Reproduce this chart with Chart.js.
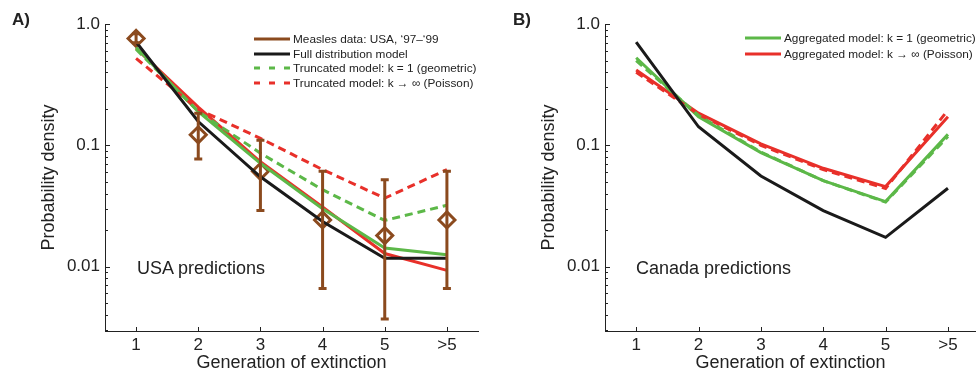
<!DOCTYPE html>
<html><head><meta charset="utf-8">
<script src="https://cdn.jsdelivr.net/npm/chart.js@4.4.1/dist/chart.umd.min.js"></script>
<style>
html,body{margin:0;padding:0;background:#fff;}
#wrap{position:relative;width:976px;height:376px;overflow:hidden;font-family:"Liberation Sans",Arial,Helvetica,sans-serif;color:#222;}
canvas{position:absolute;top:0;}
.t{position:absolute;white-space:nowrap;line-height:1;}
.panel{font-weight:bold;font-size:17px;}
.note{font-size:18px;}
.leg{position:absolute;font-size:11.8px;white-space:nowrap;}
.leg .row{position:absolute;left:0;height:14px;display:flex;align-items:center;}
.leg svg{display:block;margin-right:3px;}
</style>
</head><body>
<div id="wrap">
<canvas id="ca" width="500" height="376" style="left:0"></canvas>
<canvas id="cb" width="476" height="376" style="left:500px"></canvas>
<div class="t panel" style="left:12px;top:11px">A)</div>
<div class="t panel" style="left:513px;top:11px">B)</div>
<div class="t note" style="left:137px;top:259px">USA predictions</div>
<div class="t note" style="left:636px;top:259px">Canada predictions</div>
<div class="leg" id="legA" style="left:254px;top:32px"></div>
<div class="leg" id="legB" style="left:745px;top:31px"></div>
</div>
<script>
// ---------- data ----------
const categories = ['1', '2', '3', '4', '5', '>5'];
const generations = [1, 2, 3, 4, 5, 6];
const yTickValues = [1, 0.1, 0.01];
const yTickLabels = ['1.0', '0.1', '0.01'];

// Panel A (USA)
const usaMeasles     = [0.76, 0.122, 0.061, 0.0242, 0.018, 0.0242];
const usaMeaslesLow  = [0.70, 0.077, 0.029, 0.0066, 0.0037, 0.0066];
const usaMeaslesHigh = [0.83, 0.184, 0.110, 0.061, 0.052, 0.061];
const usaFull        = [0.71, 0.157, 0.055, 0.0235, 0.0117, 0.0117];
const usaAggGeom     = [0.64, 0.189, 0.071, 0.030, 0.0142, 0.0125];
const usaAggPois     = [0.63, 0.206, 0.073, 0.031, 0.0128, 0.0093];
const usaTruncGeom   = [0.62, 0.190, 0.086, 0.043, 0.024, 0.032];
const usaTruncPois   = [0.52, 0.198, 0.114, 0.063, 0.0366, 0.063];

// Panel B (Canada)
const canFull        = [0.71, 0.142, 0.0558, 0.0289, 0.0174, 0.0442];
const canAggGeom     = [0.527, 0.172, 0.087, 0.051, 0.0343, 0.123];
const canAggPois     = [0.418, 0.184, 0.1025, 0.0646, 0.0456, 0.172];
const canTruncGeom   = [0.50, 0.176, 0.088, 0.051, 0.034, 0.118];
const canTruncPois   = [0.40, 0.180, 0.100, 0.063, 0.044, 0.195];

// ---------- style ----------
const FONT = '"Liberation Sans", Arial, Helvetica, sans-serif';
const TXT = '#222';
const BROWN = '#8b4a1e', BLACK = '#1a1a1a', GREEN = '#5cb848', RED = '#e8302a';
const DASH = [8, 5];

const pts = arr => arr.map((v, i) => ({x: generations[i], y: v}));
const lineDs = (label, arr, color, dashed) => ({
  label, data: pts(arr), borderColor: color, backgroundColor: color,
  borderWidth: 3, pointRadius: 0, tension: 0, borderDash: dashed ? DASH : [],
  borderCapStyle: 'butt', fill: false
});

const axisTicks = {
  id: 'axisTicks',
  afterDraw(chart) {
    const {ctx, chartArea: a} = chart;
    const x = chart.scales.x, y = chart.scales.y;
    ctx.save();
    ctx.strokeStyle = TXT; ctx.lineWidth = 1;
    ctx.beginPath();
    for (let e = -3; e <= 0; e++) {
      for (let m = 1; m <= 9; m++) {
        const v = m * Math.pow(10, e);
        if (v < y.min || v > y.max * 1.0000001) continue;
        const py = Math.round(y.getPixelForValue(v)) + 0.5;
        const len = m === 1 ? 5 : 3;
        ctx.moveTo(a.left, py); ctx.lineTo(a.left + len, py);
      }
    }
    generations.forEach(g => {
      const px = Math.round(x.getPixelForValue(g)) + 0.5;
      ctx.moveTo(px, a.bottom); ctx.lineTo(px, a.bottom - 4);
    });
    ctx.stroke();
    ctx.restore();
  }
};

const errorBars = {
  id: 'errorBars',
  afterDatasetsDraw(chart, args, opts) {
    if (!opts || !opts.low) return;
    const {ctx} = chart;
    const x = chart.scales.x, y = chart.scales.y;
    ctx.save();
    ctx.strokeStyle = BROWN; ctx.lineWidth = 3; ctx.lineCap = 'butt';
    opts.low.forEach((lo, i) => {
      const hi = opts.high[i];
      const px = x.getPixelForValue(generations[i]);
      const y1 = y.getPixelForValue(lo), y2 = y.getPixelForValue(hi);
      ctx.beginPath();
      ctx.moveTo(px, y1); ctx.lineTo(px, y2);
      ctx.moveTo(px - 4, y1); ctx.lineTo(px + 4, y1);
      ctx.moveTo(px - 4, y2); ctx.lineTo(px + 4, y2);
      ctx.stroke();
    });
    ctx.restore();
  }
};

function makeOptions(xMax, yTitlePad, rightPad, err) {
  return {
    responsive: false, devicePixelRatio: 1, animation: false,
    layout: {padding: {left: 0, right: rightPad, top: 24, bottom: 0}},
    plugins: {legend: {display: false}, tooltip: {enabled: false}, errorBars: err || {}},
    scales: {
      x: {
        type: 'linear', min: 0.5, max: xMax,
        afterBuildTicks: s => { s.ticks = generations.map(v => ({value: v})); },
        afterFit: s => { s.height = 45; },
        grid: {display: false, drawTicks: false},
        border: {display: true, color: TXT, width: 1},
        ticks: {autoSkip: false, maxRotation: 0, padding: 4, color: TXT,
                font: {family: FONT, size: 17},
                callback: (v, i) => categories[i]},
        title: {display: true, text: 'Generation of extinction', color: TXT,
                font: {family: FONT, size: 18}, padding: {top: 0, bottom: 2}}
      },
      y: {
        type: 'logarithmic', min: 0.00294, max: 1,
        afterFit: s => { s.width = 105; },
        grid: {display: false, drawTicks: false},
        border: {display: true, color: TXT, width: 1},
        ticks: {autoSkip: false, padding: 5, color: TXT,
                font: {family: FONT, size: 17},
                callback: v => {
                  const k = yTickValues.findIndex(t => Math.abs(Math.log10(t) - Math.log10(v)) < 1e-6);
                  return k >= 0 ? yTickLabels[k] : '';
                }},
        title: {display: true, text: 'Probability density', color: TXT,
                font: {family: FONT, size: 18}, padding: {top: yTitlePad, bottom: 0}}
      }
    }
  };
}

new Chart(document.getElementById('ca'), {
  type: 'line',
  data: {datasets: [
    lineDs('Full distribution model', usaFull, BLACK, false),
    lineDs('Truncated model: k = 1 (geometric)', usaTruncGeom, GREEN, true),
    lineDs('Truncated model: k → ∞ (Poisson)', usaTruncPois, RED, true),
    lineDs('Aggregated model: k = 1 (geometric)', usaAggGeom, GREEN, false),
    lineDs('Aggregated model: k → ∞ (Poisson)', usaAggPois, RED, false),
    {label: "Measles data: USA, ‘97–‘99", data: pts(usaMeasles), showLine: false,
     pointStyle: 'rectRot', pointRadius: 8, pointBorderWidth: 3,
     pointBorderColor: BROWN, pointBackgroundColor: 'rgba(255,255,255,0)',
     borderColor: BROWN, backgroundColor: 'rgba(0,0,0,0)'}
  ]},
  options: makeOptions(6.5, 38, 22, {low: usaMeaslesLow, high: usaMeaslesHigh}),
  plugins: [errorBars, axisTicks]
});

new Chart(document.getElementById('cb'), {
  type: 'line',
  data: {datasets: [
    lineDs('Full distribution model', canFull, BLACK, false),
    lineDs('Truncated geometric', canTruncGeom, GREEN, true),
    lineDs('Truncated Poisson', canTruncPois, RED, true),
    lineDs('Aggregated model: k = 1 (geometric)', canAggGeom, GREEN, false),
    lineDs('Aggregated model: k → ∞ (Poisson)', canAggPois, RED, false)
  ]},
  options: makeOptions(6.45, 38, 0, null),
  plugins: [axisTicks]
});

// ---------- legends (HTML text) ----------
function legend(el, items, rowH) {
  items.forEach((it, i) => {
    const row = document.createElement('div');
    row.className = 'row';
    row.style.top = (i * rowH) + 'px';
    row.innerHTML = '<svg width="36" height="6"><line x1="0" y1="3" x2="36" y2="3" stroke="' + it.color +
      '" stroke-width="3"' + (it.dash ? ' stroke-dasharray="6 9"' : '') + '/></svg><span>' + it.text + '</span>';
    el.appendChild(row);
  });
}
legend(document.getElementById('legA'), [
  {text: "Measles data: USA, ‘97–‘99", color: BROWN},
  {text: 'Full distribution model', color: BLACK},
  {text: 'Truncated model: k = 1 (geometric)', color: GREEN, dash: true},
  {text: 'Truncated model: k → ∞ (Poisson)', color: RED, dash: true}
], 14.6);
legend(document.getElementById('legB'), [
  {text: 'Aggregated model: k = 1 (geometric)', color: GREEN},
  {text: 'Aggregated model: k → ∞ (Poisson)', color: RED}
], 15.6);
</script>
</body></html>
